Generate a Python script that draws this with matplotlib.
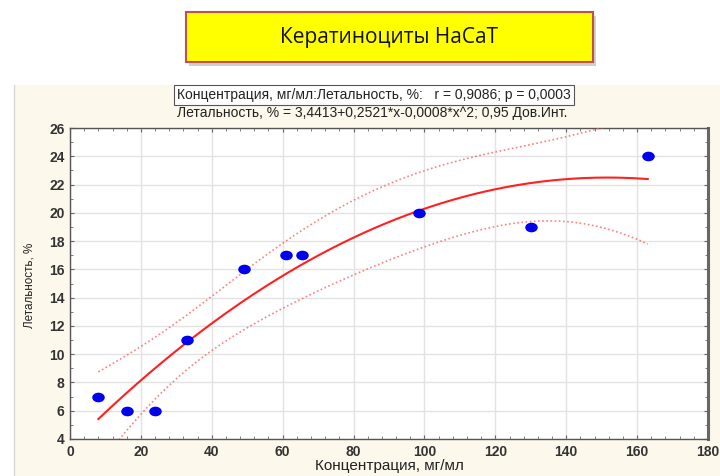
import numpy as np
import matplotlib
matplotlib.use("Agg")
import matplotlib.pyplot as plt
from matplotlib.path import Path
from matplotlib.transforms import Affine2D
from matplotlib.patches import Rectangle
from matplotlib.ticker import MultipleLocator

# ---- data ----
concentration = [8, 16, 24, 33, 49, 61, 65.5, 98.5, 130, 163]
lethality = [7, 6, 6, 11, 16, 17, 17, 20, 19, 24]
x_ticks = [0, 20, 40, 60, 80, 100, 120, 140, 160, 180]
y_ticks = [4, 6, 8, 10, 12, 14, 16, 18, 20, 22, 24, 26]
title_text = "Кератиноциты HaCaT"
stats_text = "Концентрация, мг/мл:Летальность, %:   r = 0,9086; p = 0,0003"
eq_text = "Летальность, % = 3,4413+0,2521*x-0,0008*x^2; 0,95 Дов.Инт."
x_label = "Концентрация, мг/мл"
y_label = "Летальность, %"

plt.rcParams['font.family'] = ['Liberation Sans', 'DejaVu Sans']

fig = plt.figure(figsize=(7.2, 4.76), dpi=100)
W, H = 720, 476

# cream panel
fig.patches.append(Rectangle((14 / W, 0), 1, (H - 85) / H, transform=fig.transFigure,
                             facecolor='#FDF8EC', edgecolor='none', zorder=-2))
fig.lines.append(plt.Line2D([14 / W, 14 / W], [0, (H - 85) / H], transform=fig.transFigure,
                            color='#D8D8D8', lw=1, zorder=-1))

# title box with shadow
bx0, bx1, by0, by1 = 186, 593, 12, 62
fig.patches.append(Rectangle(((bx0 + 3) / W, 1 - (by1 + 4) / H), (bx1 - bx0) / W, (by1 - by0) / H,
                             transform=fig.transFigure, facecolor='#B0B0B0', edgecolor='none',
                             alpha=0.6, zorder=1))
fig.patches.append(Rectangle((bx0 / W, 1 - by1 / H), (bx1 - bx0) / W, (by1 - by0) / H,
                             transform=fig.transFigure, facecolor='#FFFF00', edgecolor='#C0504D',
                             lw=1.5, zorder=2))
fig.text((bx0 + bx1) / 2 / W, 1 - 37 / H, title_text, ha='center', va='center', fontsize=15,
         family=['Open Sans', 'DejaVu Sans'], color='#111111', zorder=3)

fig.text(374 / W, 1 - 95 / H, stats_text, ha='center', va='center', fontsize=10,
         color='#222222',
         bbox=dict(boxstyle='square,pad=0.25', facecolor='white', edgecolor='#555555', lw=0.8))
fig.text(372 / W, 1 - 113 / H, eq_text, ha='center', va='center', fontsize=10, color='#222222')

ax = fig.add_axes([70 / W, 1 - 439 / H, (708 - 70) / W, (439 - 128) / H])
ax.set_facecolor('white')

x = np.array(concentration, float)
y = np.array(lethality, float)
X = np.column_stack([np.ones_like(x), x, x ** 2])
beta, *_ = np.linalg.lstsq(X, y, rcond=None)
resid = y - X @ beta
dof = len(x) - 3
s2 = resid @ resid / dof
XtX_inv = np.linalg.inv(X.T @ X)
t_crit = 2.3646
xs = np.linspace(x.min(), x.max(), 300)
Xs = np.column_stack([np.ones_like(xs), xs, xs ** 2])
ys = Xs @ beta
se = np.sqrt(s2 * np.einsum('ij,jk,ik->i', Xs, XtX_inv, Xs))

ax.plot(xs, ys, color='#FF2020', lw=1.5, zorder=3)
ax.plot(xs, ys + t_crit * se, color='#FF6060', lw=1.2, ls=(0, (1, 1.5)), alpha=0.8, zorder=3)
ax.plot(xs, ys - t_crit * se, color='#FF6060', lw=1.2, ls=(0, (1, 1.5)), alpha=0.8, zorder=3)

ell = Path.unit_circle().transformed(Affine2D().scale(1.35, 1.0))
ax.plot(x, y, ls='none', marker=ell, markersize=8, color='#0000EE', zorder=4, clip_on=False)

ax.set_xlim(0, 180)
ax.set_ylim(4, 26)
ax.set_xticks(x_ticks)
ax.set_yticks(y_ticks)
ax.xaxis.set_minor_locator(MultipleLocator(4))
ax.yaxis.set_minor_locator(MultipleLocator(1))
ax.grid(True, which='major', color='#E2E2E2', lw=1)
ax.set_axisbelow(True)
ax.tick_params(which='both', direction='in', top=True, right=True, color='#666666')
ax.tick_params(which='major', length=3, labelsize=10, labelcolor='#333333', pad=4)
ax.tick_params(which='minor', length=2)
for lab in ax.get_xticklabels() + ax.get_yticklabels():
    lab.set_fontweight('bold')
for side in ['left', 'bottom', 'top']:
    ax.spines[side].set_color('#555555')
    ax.spines[side].set_linewidth(1)
ax.spines['right'].set_color('#666666')
ax.spines['right'].set_linewidth(2.2)

fig.text(389 / W, 1 - 466 / H, x_label, ha='center', va='center', fontsize=11, color='#222222')
fig.text(29 / W, 1 - 285 / H, y_label, ha='center', va='center', fontsize=8.4, color='#222222',
         rotation=90)

fig.savefig('out.png', dpi=100)
